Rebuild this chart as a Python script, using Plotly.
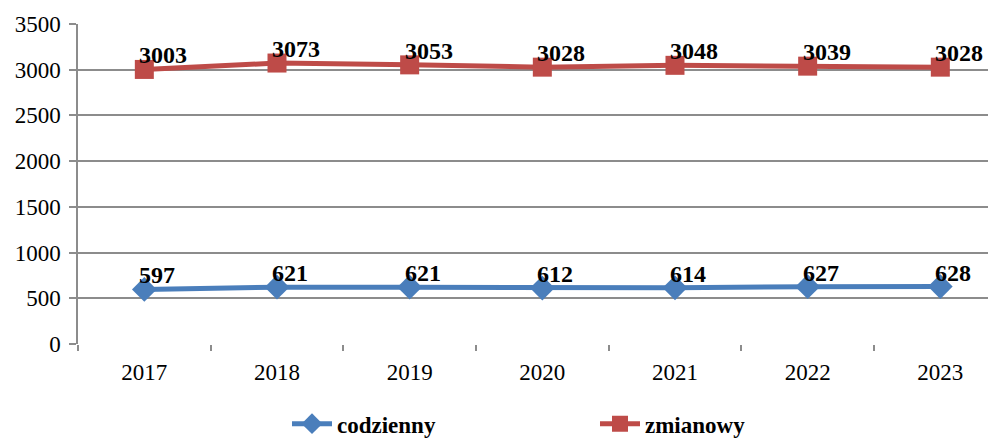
import plotly.graph_objects as go

years = ["2017", "2018", "2019", "2020", "2021", "2022", "2023"]
codzienny = [597, 621, 621, 612, 614, 627, 628]
zmianowy = [3003, 3073, 3053, 3028, 3048, 3039, 3028]
y_ticks = [0, 500, 1000, 1500, 2000, 2500, 3000, 3500]

BLUE = "#4A7EBB"
RED = "#BE4B48"
GRID = "#8c8c8c"
SERIF = "Liberation Serif"

fig = go.Figure()
fig.add_trace(go.Scatter(
    x=years, y=codzienny, name="codzienny", mode="lines+markers",
    line=dict(color=BLUE, width=5),
    marker=dict(symbol="diamond", size=19, color=BLUE),
    cliponaxis=False,
))
fig.add_trace(go.Scatter(
    x=years, y=zmianowy, name="zmianowy", mode="lines+markers",
    line=dict(color=RED, width=5),
    marker=dict(symbol="square", size=19, color=RED),
    cliponaxis=False,
))

for series in (codzienny, zmianowy):
    for i, yv in enumerate(series):
        fig.add_annotation(
            x=i, y=yv, xref="x", yref="y", text=f"<b>{yv}</b>", showarrow=False,
            xanchor="left", yanchor="bottom", xshift=-7, yshift=-1,
            font=dict(family=SERIF, size=24, color="black"),
        )

fig.update_layout(
    width=996, height=440,
    margin=dict(l=70, r=0, t=16, b=104),
    paper_bgcolor="white", plot_bgcolor="white",
    font=dict(family=SERIF, size=23, color="black"),
    showlegend=True,
    legend=dict(
        orientation="h", x=0.2257, xanchor="left",
        yref="container", y=0.104, yanchor="top",
        entrywidth=253, entrywidthmode="pixels", itemwidth=40,
        font=dict(family=SERIF, size=23, color="black", weight="bold"),
        bgcolor="rgba(0,0,0,0)",
    ),
    xaxis=dict(
        type="category", range=[-0.5, 6.48],
        showgrid=False, zeroline=False, showline=False,
        ticks="outside", tickson="boundaries", ticklen=6, tickcolor=GRID, tickwidth=1.5,
        tickfont=dict(family=SERIF, size=23),
        ticklabelstandoff=12,
    ),
    yaxis=dict(
        range=[0, 3500], tickvals=y_ticks,
        showgrid=True, gridcolor=GRID, gridwidth=1.5,
        zeroline=False, showline=True, linecolor=GRID, linewidth=1.5,
        ticks="outside", ticklen=7, tickcolor=GRID, tickwidth=1.5,
        tickfont=dict(family=SERIF, size=23),
        ticklabelstandoff=4,
    ),
)

fig.write_html("out.html")
